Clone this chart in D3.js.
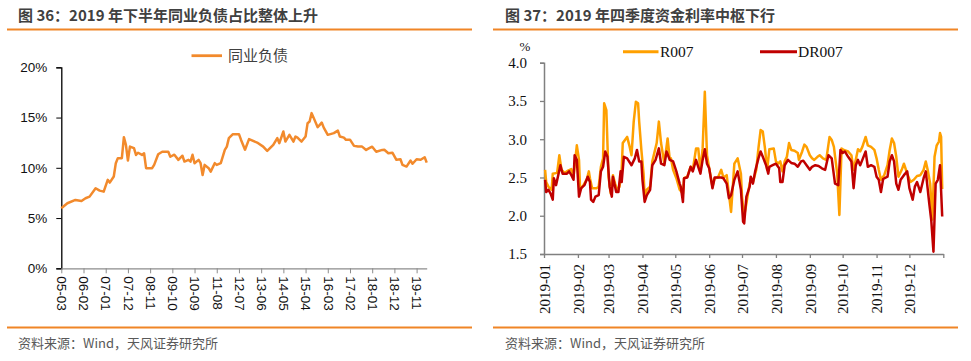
<!DOCTYPE html>
<html><head><meta charset="utf-8">
<script src="https://cdn.jsdelivr.net/npm/d3@7"></script>
<style>
body{margin:0;background:#fff;}
svg{display:block;}
</style></head><body>
<svg id="c" width="971" height="361"></svg>
<script>
// ---------- Left chart data (同业负债占比, %) ----------
const lbMonths = ["2005-03","2005-06","2005-10","2006-01","2006-03","2006-05","2006-08","2006-10","2006-12","2007-02","2007-03","2007-05","2007-06","2007-07","2007-09","2007-10","2007-11","2007-12","2008-01","2008-03","2008-04","2008-05","2008-07","2008-08","2008-09","2008-12","2009-01","2009-03","2009-05","2009-08","2009-09","2009-11","2010-01","2010-03","2010-04","2010-06","2010-07","2010-08","2010-09","2010-11","2010-12","2011-01","2011-02","2011-04","2011-05","2011-07","2011-08","2011-10","2011-12","2012-01","2012-02","2012-04","2012-07","2012-08","2012-09","2012-10","2012-12","2013-04","2013-07","2013-09","2013-12","2014-02","2014-03","2014-05","2014-06","2014-08","2014-10","2014-11","2014-12","2015-02","2015-04","2015-05","2015-06","2015-07","2015-10","2015-12","2016-01","2016-03","2016-06","2016-08","2016-09","2016-11","2016-12","2017-02","2017-04","2017-06","2017-08","2017-10","2017-12","2018-01","2018-03","2018-06","2018-07","2018-09","2018-11","2019-01","2019-03","2019-04","2019-06","2019-08","2019-09","2019-11","2020-01","2020-03","2020-04"];
const lbValues = [5.97,6.47,6.80,6.70,6.97,7.13,7.97,7.73,7.63,8.80,8.53,9.13,10.46,10.96,10.96,13.05,12.28,10.72,12.11,11.95,11.28,11.50,11.28,11.45,9.96,9.96,10.29,11.35,11.60,11.60,11.10,11.30,10.79,11.20,10.62,10.79,10.62,11.30,10.46,10.79,10.46,9.29,10.29,9.96,9.62,10.46,10.29,10.46,11.78,12.11,12.95,13.35,13.35,12.80,12.30,11.80,12.85,12.51,12.11,11.68,12.28,12.95,12.45,13.61,12.61,13.28,12.61,13.11,13.00,12.61,13.11,14.44,14.60,15.44,14.04,14.50,14.00,13.28,13.45,13.70,13.11,13.00,12.78,12.80,12.18,12.11,12.11,11.78,12.00,12.10,11.60,11.78,11.80,11.45,11.50,10.79,10.85,10.29,10.12,10.72,10.40,10.85,10.80,11.05,10.52];
const lbTickLabels = ["05-03","06-02","07-01","07-12","08-11","09-10","10-09","11-08","12-07","13-06","14-05","15-04","16-03","17-02","18-01","18-12","19-11"];
const lbYTicks = [0,5,10,15,20];
const lbAxisEnd = "2020-04";

// ---------- Right chart data (R007 / DR007, %) ----------
const r007Dates = ["2019-01-02","2019-01-03","2019-01-05","2019-01-08","2019-01-09","2019-01-13","2019-01-15","2019-01-17","2019-01-20","2019-01-23","2019-01-26","2019-01-28","2019-01-31","2019-02-02","2019-02-03","2019-02-06","2019-02-09","2019-02-11","2019-02-12","2019-02-14","2019-02-18","2019-02-20","2019-02-22","2019-02-24","2019-02-25","2019-02-27","2019-03-01","2019-03-03","2019-03-05","2019-03-07","2019-03-09","2019-03-11","2019-03-13","2019-03-14","2019-03-17","2019-03-18","2019-03-20","2019-03-22","2019-03-24","2019-03-26","2019-03-28","2019-03-29","2019-03-31","2019-04-02","2019-04-03","2019-04-05","2019-04-08","2019-04-10","2019-04-14","2019-04-16","2019-04-18","2019-04-21","2019-04-24","2019-04-26","2019-04-27","2019-04-29","2019-05-02","2019-05-05","2019-05-08","2019-05-09","2019-05-12","2019-05-15","2019-05-17","2019-05-20","2019-05-22","2019-05-24","2019-05-26","2019-05-28","2019-05-30","2019-06-01","2019-06-04","2019-06-06","2019-06-09","2019-06-12","2019-06-14","2019-06-17","2019-06-19","2019-06-21","2019-06-24","2019-06-27","2019-06-30","2019-07-01","2019-07-02","2019-07-03","2019-07-05","2019-07-07","2019-07-09","2019-07-11","2019-07-14","2019-07-16","2019-07-18","2019-07-20","2019-07-22","2019-07-24","2019-07-26","2019-07-30","2019-08-01","2019-08-03","2019-08-05","2019-08-07","2019-08-09","2019-08-11","2019-08-13","2019-08-15","2019-08-18","2019-08-21","2019-08-22","2019-08-25","2019-08-27","2019-08-29","2019-09-01","2019-09-03","2019-09-05","2019-09-08","2019-09-10","2019-09-13","2019-09-16","2019-09-19","2019-09-21","2019-09-23","2019-09-26","2019-09-28","2019-09-30","2019-10-02","2019-10-06","2019-10-09","2019-10-11","2019-10-13","2019-10-15","2019-10-17","2019-10-19","2019-10-22","2019-10-24","2019-10-27","2019-10-30","2019-11-01","2019-11-03","2019-11-05","2019-11-08","2019-11-11","2019-11-13","2019-11-15","2019-11-17","2019-11-19","2019-11-21","2019-11-24","2019-11-26","2019-11-29","2019-12-02","2019-12-05","2019-12-08","2019-12-11","2019-12-14","2019-12-16","2019-12-18","2019-12-20","2019-12-22","2019-12-24","2019-12-26","2019-12-28","2019-12-29","2019-12-30","2019-12-31"];
const r007 = [2.60,2.44,2.38,2.34,2.55,2.56,2.79,2.60,2.56,2.59,2.61,2.51,2.92,2.73,2.34,2.40,2.47,2.58,2.49,2.36,2.36,2.38,2.64,2.75,3.47,3.38,2.51,2.29,2.53,2.42,2.34,2.38,2.60,2.95,3.01,3.03,2.92,2.79,3.23,3.49,3.47,3.23,2.86,2.55,2.25,2.34,2.38,2.71,2.95,3.23,2.95,2.68,3.01,2.73,2.75,2.60,2.49,2.34,2.29,2.49,2.51,2.64,2.60,2.88,2.88,2.58,2.88,3.62,2.79,2.62,2.38,2.49,2.50,2.60,2.50,2.53,2.29,2.05,2.68,2.75,2.55,2.25,2.12,2.00,2.16,2.34,2.49,2.44,2.60,2.88,3.12,3.10,2.88,2.60,2.87,2.88,2.71,2.68,2.71,2.58,2.71,2.77,2.95,2.86,2.85,2.82,2.73,2.84,2.93,2.90,2.79,2.75,2.73,2.77,2.79,2.75,2.73,3.03,2.99,2.90,2.55,2.01,2.88,2.86,2.84,2.79,2.60,2.73,2.87,2.84,2.90,3.03,2.92,2.90,2.86,2.75,2.60,2.47,2.53,2.66,2.86,3.01,2.95,2.77,2.51,2.60,2.68,2.55,2.44,2.47,2.52,2.53,2.60,2.71,2.58,2.42,1.95,2.77,2.92,2.97,3.08,3.03,2.35];
const dr007Dates = ["2019-01-02","2019-01-03","2019-01-05","2019-01-07","2019-01-09","2019-01-10","2019-01-12","2019-01-14","2019-01-16","2019-01-18","2019-01-22","2019-01-24","2019-01-26","2019-01-28","2019-01-29","2019-01-31","2019-02-02","2019-02-04","2019-02-07","2019-02-10","2019-02-12","2019-02-13","2019-02-15","2019-02-17","2019-02-20","2019-02-22","2019-02-24","2019-02-26","2019-02-28","2019-03-02","2019-03-04","2019-03-05","2019-03-08","2019-03-10","2019-03-12","2019-03-13","2019-03-15","2019-03-18","2019-03-22","2019-03-25","2019-03-27","2019-03-29","2019-03-31","2019-04-01","2019-04-03","2019-04-05","2019-04-08","2019-04-10","2019-04-13","2019-04-16","2019-04-18","2019-04-21","2019-04-23","2019-04-26","2019-04-29","2019-05-02","2019-05-05","2019-05-06","2019-05-08","2019-05-09","2019-05-12","2019-05-15","2019-05-17","2019-05-20","2019-05-22","2019-05-24","2019-05-26","2019-05-28","2019-05-30","2019-06-01","2019-06-04","2019-06-06","2019-06-09","2019-06-12","2019-06-14","2019-06-17","2019-06-19","2019-06-21","2019-06-24","2019-06-27","2019-06-30","2019-07-02","2019-07-03","2019-07-05","2019-07-08","2019-07-09","2019-07-11","2019-07-13","2019-07-16","2019-07-18","2019-07-20","2019-07-23","2019-07-25","2019-07-26","2019-07-29","2019-08-01","2019-08-04","2019-08-05","2019-08-07","2019-08-09","2019-08-12","2019-08-15","2019-08-18","2019-08-21","2019-08-24","2019-08-26","2019-08-29","2019-09-01","2019-09-03","2019-09-06","2019-09-09","2019-09-12","2019-09-15","2019-09-18","2019-09-21","2019-09-24","2019-09-27","2019-09-29","2019-10-01","2019-10-03","2019-10-06","2019-10-09","2019-10-11","2019-10-13","2019-10-15","2019-10-17","2019-10-19","2019-10-22","2019-10-24","2019-10-27","2019-10-30","2019-11-01","2019-11-03","2019-11-05","2019-11-07","2019-11-11","2019-11-13","2019-11-15","2019-11-17","2019-11-19","2019-11-21","2019-11-23","2019-11-26","2019-11-29","2019-12-01","2019-12-04","2019-12-06","2019-12-08","2019-12-11","2019-12-14","2019-12-16","2019-12-19","2019-12-21","2019-12-23","2019-12-25","2019-12-27","2019-12-29","2019-12-31"];
const dr007 = [2.47,2.31,2.34,2.29,2.21,2.49,2.40,2.53,2.66,2.55,2.55,2.58,2.53,2.47,2.79,2.73,2.25,2.36,2.40,2.51,2.44,2.21,2.18,2.25,2.27,2.58,2.64,2.84,2.77,2.38,2.25,2.51,2.31,2.31,2.58,2.44,2.77,2.75,2.66,2.75,2.86,2.71,2.71,2.47,2.18,2.27,2.34,2.66,2.73,2.88,2.68,2.66,2.84,2.73,2.71,2.58,2.42,2.38,2.18,2.49,2.50,2.64,2.58,2.73,2.64,2.55,2.73,2.87,2.68,2.62,2.36,2.50,2.50,2.50,2.49,2.42,2.23,2.27,2.47,2.58,2.34,1.92,1.90,2.25,2.38,2.51,2.42,2.58,2.75,2.84,2.77,2.66,2.55,2.64,2.66,2.68,2.62,2.44,2.44,2.66,2.73,2.69,2.68,2.64,2.71,2.72,2.66,2.60,2.64,2.66,2.65,2.62,2.60,2.79,2.75,2.42,2.40,2.86,2.82,2.84,2.77,2.71,2.36,2.66,2.73,2.66,2.73,2.84,2.64,2.66,2.64,2.51,2.47,2.31,2.48,2.51,2.71,2.79,2.71,2.42,2.34,2.47,2.53,2.58,2.36,2.21,2.38,2.44,2.31,2.49,2.58,2.18,1.94,1.53,2.42,2.47,2.66,1.99];
const rXTickMonths = ["2019-01","2019-02","2019-03","2019-04","2019-05","2019-06","2019-07","2019-08","2019-09","2019-10","2019-11","2019-12","2020-01"];
const rYTicks = [1.5,2.0,2.5,3.0,3.5,4.0];
const rSeriesNames = ["R007","DR007"];

// ---------- Drawing ----------
const svg = d3.select("#c");
const CJK = "'Noto Sans CJK SC','Noto Sans',sans-serif";
const SERIF = "'Liberation Serif','DejaVu Serif',serif";
const ORANGE_RULE = "#F08526";

function frame(x0, x1, title, tx) {
  svg.append("text").attr("x", tx).attr("y", 20.5).text(title)
    .attr("font-family", CJK).attr("font-size", 15).attr("font-weight", "bold").attr("fill", "#404040");
  svg.append("line").attr("x1", x0).attr("x2", x1).attr("y1", 29.5).attr("y2", 29.5)
    .attr("stroke", ORANGE_RULE).attr("stroke-width", 2.2);
  svg.append("line").attr("x1", x0).attr("x2", x1).attr("y1", 327.5).attr("y2", 327.5)
    .attr("stroke", ORANGE_RULE).attr("stroke-width", 2.2);
  svg.append("text").attr("x", tx).attr("y", 348).text("资料来源：Wind，天风证券研究所")
    .attr("font-family", CJK).attr("font-size", 13).attr("fill", "#595959");
}
frame(7, 472, "图 36：2019 年下半年同业负债占比整体上升", 18);
frame(493, 958, "图 37：2019 年四季度资金利率中枢下行", 505);

// ---- Left chart ----
const monthIdx = s => { const [y, m] = s.split("-").map(Number); return (y - 2005) * 12 + (m - 3); };
const labelIdx = s => { const [y, m] = s.split("-").map(Number); return (y + 2000 - 2005) * 12 + (m - 3); };
const lx = d3.scaleLinear().domain([0, monthIdx(lbAxisEnd)]).range([61.3, 426.7]);
const ly = d3.scaleLinear().domain([0, 20]).range([268.3, 67.3]);

const lyAxis = svg.append("g").attr("transform", "translate(61.3,0)")
  .call(d3.axisLeft(ly).tickValues(lbYTicks).tickSize(5).tickPadding(9).tickFormat(d => d + "%"));
lyAxis.select(".domain").attr("stroke", "#000").attr("stroke-width", 1.3);
lyAxis.selectAll(".tick line").attr("stroke", "#000");
lyAxis.selectAll("text").attr("font-family", "'Liberation Sans',Arial,sans-serif").attr("font-size", 13.5).attr("fill", "#111");

const lxAxis = svg.append("g").attr("transform", "translate(0,268.3)")
  .call(d3.axisBottom(lx).tickValues(lbTickLabels.map(labelIdx)).tickSize(5).tickSizeOuter(0)
    .tickFormat((d, i) => lbTickLabels[i]));
lxAxis.select(".domain").attr("stroke", "#8c8c8c").attr("stroke-width", 1.3);
lxAxis.selectAll(".tick line").attr("stroke", "#8c8c8c");
lxAxis.selectAll("text").attr("font-family", "'Liberation Sans',Arial,sans-serif").attr("font-size", 13.5).attr("fill", "#111")
  .attr("text-anchor", "start").attr("transform", "rotate(90)").attr("x", 8).attr("y", 0).attr("dy", "0.35em");

const lData = lbMonths.map((m, i) => ({ x: monthIdx(m), y: lbValues[i] }));
svg.append("path").datum(lData)
  .attr("d", d3.line().x(d => lx(d.x)).y(d => ly(d.y)))
  .attr("fill", "none").attr("stroke", "#F28A2C").attr("stroke-width", 2.5).attr("stroke-linejoin", "round");

// left legend
svg.append("line").attr("x1", 191.5).attr("x2", 222).attr("y1", 55.7).attr("y2", 55.7)
  .attr("stroke", "#F28A2C").attr("stroke-width", 2.8);
svg.append("text").attr("x", 228).attr("y", 61).text("同业负债")
  .attr("font-family", CJK).attr("font-size", 15).attr("fill", "#404040");

// ---- Right chart ----
const parseDay = d3.timeParse("%Y-%m-%d");
const parseMonth = d3.timeParse("%Y-%m");
const rx = d3.scaleTime().domain([parseMonth("2019-01"), parseMonth("2020-01")]).range([544, 943.3]);
const ry = d3.scaleLinear().domain([1.5, 4.0]).range([254, 62.7]);

const ryAxis = svg.append("g").attr("transform", "translate(544,0)")
  .call(d3.axisLeft(ry).tickValues(rYTicks).tickSize(4).tickPadding(13).tickFormat(d3.format(".1f")));
ryAxis.select(".domain").attr("stroke", "#808080").attr("stroke-width", 1.5);
ryAxis.selectAll(".tick line").attr("stroke", "#808080").attr("stroke-width", 1.3);
ryAxis.selectAll("text").attr("font-family", SERIF).attr("font-size", 15).attr("fill", "#111");

const rxAxis = svg.append("g").attr("transform", "translate(0,254)")
  .call(d3.axisBottom(rx).tickValues(rXTickMonths.map(parseMonth)).tickSize(4).tickSizeOuter(0)
    .tickFormat((d, i) => i < rXTickMonths.length - 1 ? rXTickMonths[i] : ""));
rxAxis.select(".domain").attr("stroke", "#808080").attr("stroke-width", 1.5);
rxAxis.selectAll(".tick line").attr("stroke", "#808080").attr("stroke-width", 1.3);
rxAxis.selectAll("text").attr("font-family", SERIF).attr("font-size", 15).attr("fill", "#111")
  .attr("text-anchor", "end").attr("transform", "rotate(-90)").attr("x", -10).attr("y", 0).attr("dy", "0.35em");

svg.append("text").attr("x", 525).attr("y", 51).attr("text-anchor", "middle").text("%")
  .attr("font-family", SERIF).attr("font-size", 13).attr("fill", "#111");

const rLine = d3.line().x(d => rx(d.x)).y(d => ry(d.y));
const rSeries = [
  { dates: r007Dates, vals: r007, color: "#FFA000" },
  { dates: dr007Dates, vals: dr007, color: "#C00000" }
];
rSeries.forEach(s => {
  svg.append("path").datum(s.dates.map((d, i) => ({ x: parseDay(d), y: s.vals[i] })))
    .attr("d", rLine).attr("fill", "none").attr("stroke", s.color).attr("stroke-width", 2.5)
    .attr("stroke-linejoin", "round");
});

// right legend
const rLeg = [{ x1: 623, x2: 658.5, tx: 660 }, { x1: 760, x2: 797, tx: 798 }];
rLeg.forEach((l, i) => {
  svg.append("line").attr("x1", l.x1).attr("x2", l.x2).attr("y1", 51.7).attr("y2", 51.7)
    .attr("stroke", rSeries[i].color).attr("stroke-width", 3);
  svg.append("text").attr("x", l.tx).attr("y", 57).text(rSeriesNames[i])
    .attr("font-family", SERIF).attr("font-size", 15.5).attr("fill", "#111");
});
</script>
</body></html>
